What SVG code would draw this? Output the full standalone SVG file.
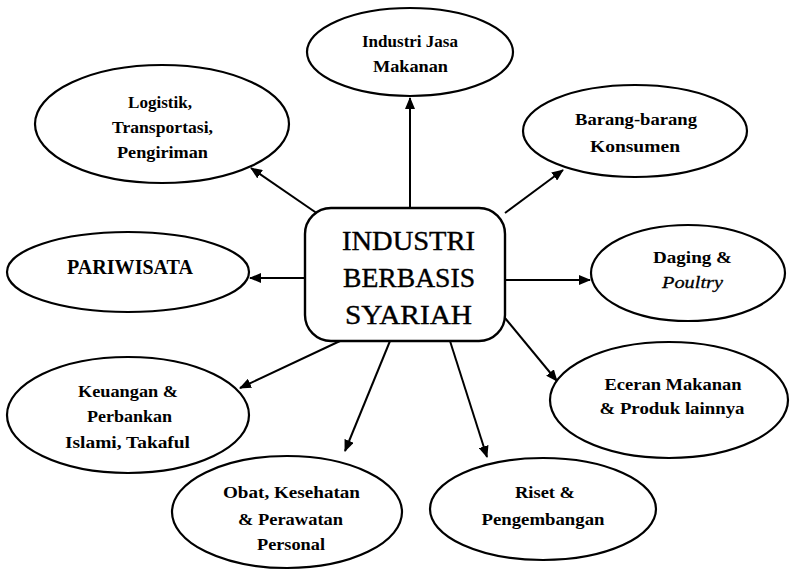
<svg xmlns="http://www.w3.org/2000/svg" width="791" height="571" viewBox="0 0 791 571">
  <style>
    .node ellipse { fill: #ffffff; stroke: #000000; stroke-width: 2.2; }
    .hub rect { fill: #ffffff; stroke: #000000; stroke-width: 2.4; }
    .lbl { font-family: "Liberation Serif", "Times New Roman", serif; font-size: 17px; font-weight: bold; fill: #000000; text-anchor: middle; }
    .ital { font-family: "Liberation Serif", "Times New Roman", serif; font-size: 17px; font-style: italic; font-weight: normal; fill: #000000; text-anchor: middle; stroke: #000000; stroke-width: 0.3; }
    .cap { font-family: "Liberation Serif", "Times New Roman", serif; font-size: 20px; font-weight: bold; fill: #000000; text-anchor: middle; }
    .hubtxt { font-family: "Liberation Serif", "Times New Roman", serif; font-size: 28px; fill: #000000; text-anchor: middle; stroke: #000000; stroke-width: 0.4; }
    .edge { fill: none; stroke: #000000; stroke-width: 2; marker-end: url(#head); }
  </style>
  <defs>
    <marker id="head" markerUnits="userSpaceOnUse" markerWidth="12" markerHeight="10" refX="11" refY="5" orient="auto">
      <path d="M0,0 L12,5 L0,10 Z" fill="#000000"/>
    </marker>
  </defs>
  <rect width="791" height="571" fill="#ffffff"/>

  <!-- connectors from the hub to each sector -->
  <g id="connectors">
    <line class="edge" x1="410" y1="208" x2="410" y2="98"/>
    <line class="edge" x1="318" y1="214" x2="251" y2="168"/>
    <line class="edge" x1="505" y1="213" x2="563" y2="170"/>
    <line class="edge" x1="305" y1="278" x2="250" y2="278"/>
    <line class="edge" x1="505" y1="280" x2="590" y2="280"/>
    <line class="edge" x1="505" y1="318" x2="557" y2="381"/>
    <line class="edge" x1="450" y1="341" x2="487" y2="457"/>
    <line class="edge" x1="390" y1="341" x2="345" y2="451"/>
    <line class="edge" x1="340" y1="341" x2="240" y2="388"/>
  </g>

  <!-- central hub -->
  <g id="hub" class="hub">
    <rect x="305" y="208" width="200" height="133" rx="26" ry="26"/>
    <text class="hubtxt" x="408.5" y="250" textLength="133" lengthAdjust="spacingAndGlyphs">INDUSTRI</text>
    <text class="hubtxt" x="409" y="287" textLength="132" lengthAdjust="spacingAndGlyphs">BERBASIS</text>
    <text class="hubtxt" x="408.5" y="324" textLength="127" lengthAdjust="spacingAndGlyphs">SYARIAH</text>
  </g>

  <g id="jasa-makanan" class="node">
    <ellipse cx="410" cy="52" rx="103" ry="44"/>
    <text class="lbl" x="410" y="47" textLength="96" lengthAdjust="spacingAndGlyphs">Industri Jasa</text>
    <text class="lbl" x="410.5" y="72" textLength="75" lengthAdjust="spacingAndGlyphs">Makanan</text>
  </g>

  <g id="logistik" class="node">
    <ellipse cx="162" cy="124" rx="127" ry="59"/>
    <text class="lbl" x="160" y="108" textLength="64" lengthAdjust="spacingAndGlyphs">Logistik,</text>
    <text class="lbl" x="162.5" y="133" textLength="101" lengthAdjust="spacingAndGlyphs">Transportasi,</text>
    <text class="lbl" x="162.5" y="158" textLength="91" lengthAdjust="spacingAndGlyphs">Pengiriman</text>
  </g>

  <g id="barang-konsumen" class="node">
    <ellipse cx="635" cy="131" rx="112" ry="46"/>
    <text class="lbl" x="636" y="125" textLength="122" lengthAdjust="spacingAndGlyphs">Barang-barang</text>
    <text class="lbl" x="635" y="152" textLength="90" lengthAdjust="spacingAndGlyphs">Konsumen</text>
  </g>

  <g id="pariwisata" class="node">
    <ellipse cx="128" cy="272" rx="121" ry="40"/>
    <text class="cap" x="130" y="274" textLength="126" lengthAdjust="spacingAndGlyphs">PARIWISATA</text>
  </g>

  <g id="daging-poultry" class="node">
    <ellipse cx="688" cy="273" rx="97" ry="48"/>
    <text class="lbl" x="692.5" y="263" textLength="79" lengthAdjust="spacingAndGlyphs">Daging &amp;</text>
    <text class="ital" x="692.5" y="288" textLength="61" lengthAdjust="spacingAndGlyphs">Poultry</text>
  </g>

  <g id="eceran" class="node">
    <ellipse cx="669" cy="400" rx="119" ry="58"/>
    <text class="lbl" x="673" y="390" textLength="137" lengthAdjust="spacingAndGlyphs">Eceran Makanan</text>
    <text class="lbl" x="672" y="414" textLength="145" lengthAdjust="spacingAndGlyphs">&amp; Produk lainnya</text>
  </g>

  <g id="riset" class="node">
    <ellipse cx="543" cy="509" rx="113" ry="51"/>
    <text class="lbl" x="545" y="498" textLength="60" lengthAdjust="spacingAndGlyphs">Riset &amp;</text>
    <text class="lbl" x="543" y="525" textLength="123" lengthAdjust="spacingAndGlyphs">Pengembangan</text>
  </g>

  <g id="obat" class="node">
    <ellipse cx="287" cy="512" rx="115" ry="56"/>
    <text class="lbl" x="291.5" y="498" textLength="137" lengthAdjust="spacingAndGlyphs">Obat, Kesehatan</text>
    <text class="lbl" x="290.5" y="525" textLength="105" lengthAdjust="spacingAndGlyphs">&amp; Perawatan</text>
    <text class="lbl" x="291" y="550" textLength="68" lengthAdjust="spacingAndGlyphs">Personal</text>
  </g>

  <g id="keuangan" class="node">
    <ellipse cx="128" cy="415" rx="121" ry="58"/>
    <text class="lbl" x="128" y="397" textLength="100" lengthAdjust="spacingAndGlyphs">Keuangan &amp;</text>
    <text class="lbl" x="129.5" y="422" textLength="85" lengthAdjust="spacingAndGlyphs">Perbankan</text>
    <text class="lbl" x="127.5" y="448" textLength="125" lengthAdjust="spacingAndGlyphs">Islami, Takaful</text>
  </g>
</svg>
